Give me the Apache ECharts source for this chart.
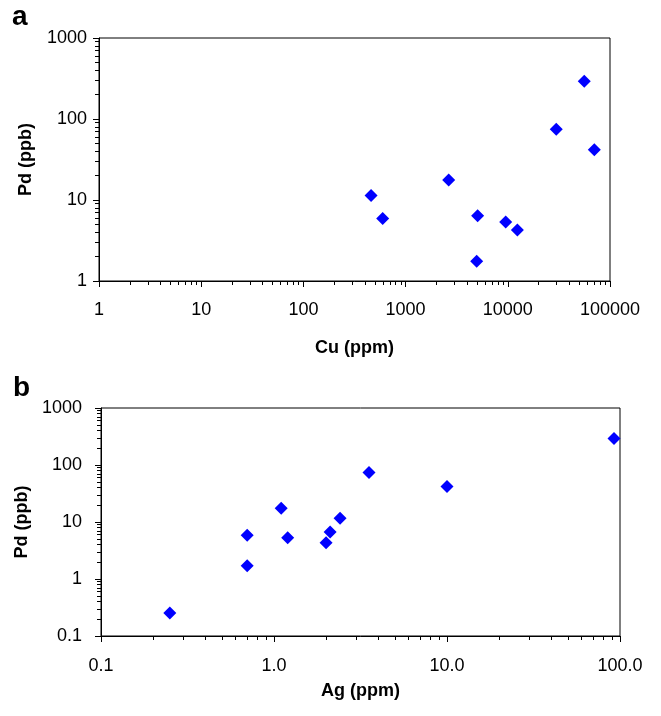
<!DOCTYPE html>
<html>
<head>
<meta charset="utf-8">
<script src="https://cdn.jsdelivr.net/npm/echarts@6/dist/echarts.min.js"></script>
<style>
  html, body { margin: 0; padding: 0; background: #fff; }
  #chart { width: 661px; height: 716px; }
</style>
</head>
<body>
<div id="chart"></div>
<script>
// panel a: Cu vs Pd
var cuPpm = [459, 597, 2640, 5070, 4960, 9530, 12400, 29800, 56000, 70200];
var pdA   = [11.4, 5.9, 17.7, 6.4, 1.75, 5.35, 4.26, 74.6, 292, 41.8];

// panel b: Ag vs Pd
var agPpm = [0.25, 0.70, 0.70, 1.10, 1.20, 2.00, 2.11, 2.41, 3.54, 10.0, 92.3];
var pdB   = [0.254, 1.70, 5.83, 17.4, 5.29, 4.33, 6.67, 11.6, 73.6, 41.8, 292];

// axis ranges (decades)
var cuRange = [1, 100000];
var pdRangeA = [1, 1000];
var agRange = [0.1, 100];
var pdRangeB = [0.1, 1000];

function zip(xs, ys) {
  return xs.map(function (x, i) { return [x, ys[i]]; });
}

function plain(v) { return String(Number(v.toPrecision(6))); }
function oneDec(v) { return Number(v.toPrecision(6)).toFixed(1); }

var FONT = 'Liberation Sans, Arial, sans-serif';
var labelFont = { fontFamily: FONT, fontSize: 18, color: '#000' };
var nameFont = { fontFamily: FONT, fontSize: 18, fontWeight: 'bold', color: '#000' };

function logAxis(grid, range, fmt, name, gap, margin, pos) {
  return {
    type: 'log', logBase: 10, gridIndex: grid, position: pos,
    min: range[0], max: range[1],
    name: name, nameLocation: 'middle', nameGap: gap, nameTextStyle: nameFont,
    axisLine: { show: true, onZero: false, lineStyle: { color: '#000', width: 1 } },
    axisTick: { show: true, inside: false, length: 6, lineStyle: { color: '#000' } },
    // 2..9 between decades
    minorTick: { show: true, splitNumber: 9, length: 4, lineStyle: { color: '#000' } },
    axisLabel: Object.assign({ formatter: fmt, margin: margin }, labelFont),
    splitLine: { show: false },
    minorSplitLine: { show: false }
  };
}

var chart = echarts.init(document.getElementById('chart'), null, { renderer: 'canvas' });

var letterStyle = { fontFamily: FONT, fontSize: 28, fontWeight: 'bold', color: '#000' };

var option = {
  animation: false,
  backgroundColor: '#fff',
  title: [
    { text: 'a', left: 12, top: 3, padding: 0, textStyle: letterStyle },
    { text: 'b', left: 13, top: 374, padding: 0, textStyle: letterStyle }
  ],
  grid: [
    { left: 99, top: 38, width: 511, height: 243, show: true, borderColor: '#000', borderWidth: 1, backgroundColor: 'transparent' },
    { left: 101, top: 408, width: 519, height: 228, show: true, borderColor: '#000', borderWidth: 1, backgroundColor: 'transparent' }
  ],
  xAxis: [
    logAxis(0, cuRange, plain, 'Cu (ppm)', 58, 20, 'bottom'),
    logAxis(1, agRange, oneDec, 'Ag (ppm)', 46, 21, 'bottom')
  ],
  yAxis: [
    logAxis(0, pdRangeA, plain, 'Pd (ppb)', 64, 12, 'left'),
    logAxis(1, pdRangeB, plain, 'Pd (ppb)', 61, 19, 'left')
  ],
  series: [
    {
      type: 'scatter', xAxisIndex: 0, yAxisIndex: 0,
      symbol: 'diamond', symbolSize: 13,
      itemStyle: { color: '#0000ff', opacity: 1 },
      data: zip(cuPpm, pdA)
    },
    {
      type: 'scatter', xAxisIndex: 1, yAxisIndex: 1,
      symbol: 'diamond', symbolSize: 13,
      itemStyle: { color: '#0000ff', opacity: 1 },
      data: zip(agPpm, pdB)
    }
  ]
};

chart.setOption(option);
window.onresize = chart.resize;
</script>
</body>
</html>
